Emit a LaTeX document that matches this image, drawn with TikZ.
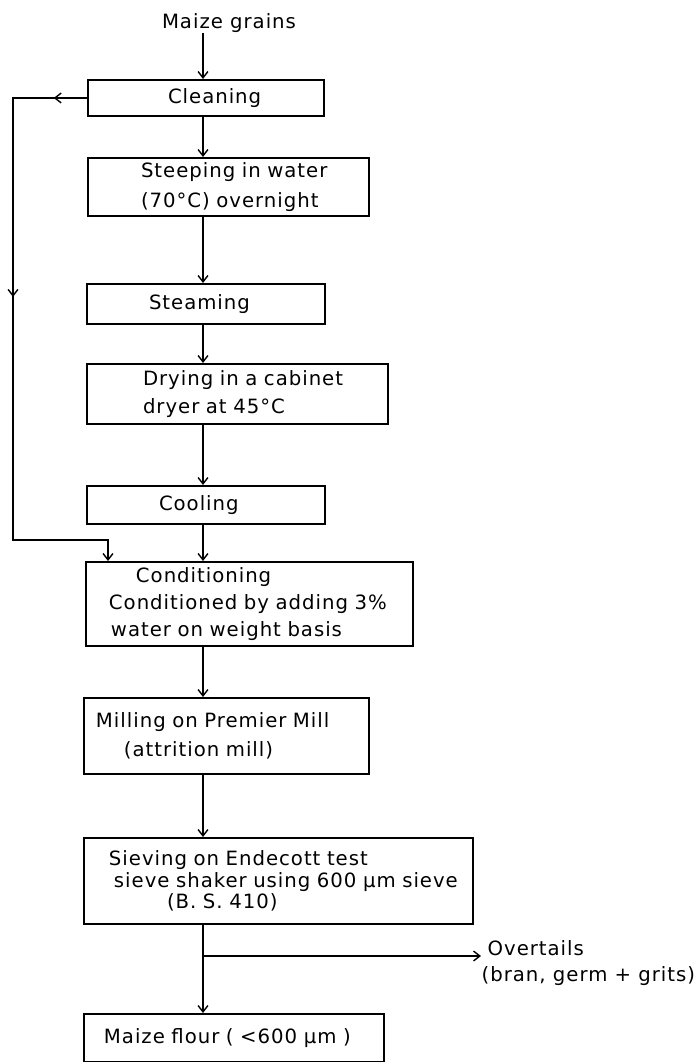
\documentclass[tikz,border=0pt]{standalone}
\usepackage{fontspec}
\setmainfont[LetterSpace=5]{DejaVu Sans}
\usetikzlibrary{arrows.meta,positioning,calc}

\begin{document}
\begin{tikzpicture}[x=0.025cm, y=-0.025cm, ->, >={Straight Barb[length=4.5pt,width=7pt]},
                    line width=1pt, font=\fontsize{14}{20}\selectfont]
  \tikzstyle{stage}=[draw, line width=1.4pt, anchor=north west, align=left,
                     inner xsep=0pt, inner ysep=0pt]
  \useasboundingbox (0,0) rectangle (699,1062);
  \coordinate (spine) at (203,0);

  \node[inner sep=0pt] (grains) at (229,23) {Maize grains};
  \node[stage, text width=5.9cm, minimum height=0.9cm] (clean) at (87,79)
       {\hspace*{2cm}Cleaning};
  \node[stage, text width=7.025cm, minimum height=1.45cm] (steep) at (87,157)
       {\hspace*{1.325cm}Steeping in water\\[1pt] \hspace*{1.325cm}(70°C) overnight};
  \node[stage, text width=5.95cm, minimum height=1cm] (steam) at (86,283)
       {\hspace*{1.55cm}Steaming};
  \node[stage, text width=7.525cm, minimum height=1.5cm] (dry) at (86,363)
       {\hspace*{1.4cm}Drying in a cabinet\\ \hspace*{1.4cm}dryer at 45°C};
  \node[stage, text width=5.95cm, minimum height=0.95cm] (cool) at (86,485)
       {\hspace*{1.8cm}Cooling};
  \node[stage, text width=8.175cm, minimum height=2.1cm] (cond) at (85,561)
       {\hspace*{1.25cm}Conditioning\\[-1pt] \hspace*{0.575cm}Conditioned by adding 3\%\\[-1pt]
        \hspace*{0.625cm}water on weight basis};
  \node[stage, text width=7.125cm, minimum height=1.9cm] (mill) at (83,697)
       {\hspace*{0.3cm}Milling on Premier Mill\\[1pt] \hspace*{1cm}(attrition mill)};
  \node[stage, text width=9.725cm, minimum height=2.15cm] (sieve) at (83,837)
       {\hspace*{0.625cm}Sieving on Endecott test\\[-4.5pt] \hspace*{0.75cm}sieve shaker using 600 µm sieve\\[-4.5pt]
        \hspace*{2.075cm}(B. S. 410)};
  \node[stage, text width=7.5cm, minimum height=1.2cm] (flour) at (83,1013)
       {\hspace*{0.5cm}Maize flour ( <600 µm )};
  \node[inner sep=0pt, anchor=west, align=left] (over) at (481,963)
       {\hspace*{0.15cm}Overtails\\[-1pt](bran, germ + grits)};

  \path (grains.south -| spine) edge (clean.north -| spine)
        (clean.south -| spine)  edge (steep.north -| spine)
        (steep.south -| spine)  edge (steam.north -| spine)
        (steam.south -| spine)  edge (dry.north -| spine)
        (dry.south -| spine)    edge (cool.north -| spine)
        (cool.south -| spine)   edge (cond.north -| spine)
        (cond.south -| spine)   edge (mill.north -| spine)
        (mill.south -| spine)   edge (sieve.north -| spine)
        (sieve.south -| spine)  edge (flour.north -| spine);

  % overtails branch
  \coordinate (split) at (203,956);
  \draw (split) -- (split -| over.west);

  % return line from cleaning to conditioning
  \coordinate (back) at (13,540);
  \coordinate (drop) at (108,540);
  \draw (clean.west) -- (clean.west -| back) -- (back) -- (drop) -- (drop |- cond.north);
  \draw (clean.west) -- ($(clean.west)!0.45!(clean.west -| back)$);
  \draw (clean.west -| back) -- ($(clean.west -| back)!0.45!(back)$);
\end{tikzpicture}
\end{document}
